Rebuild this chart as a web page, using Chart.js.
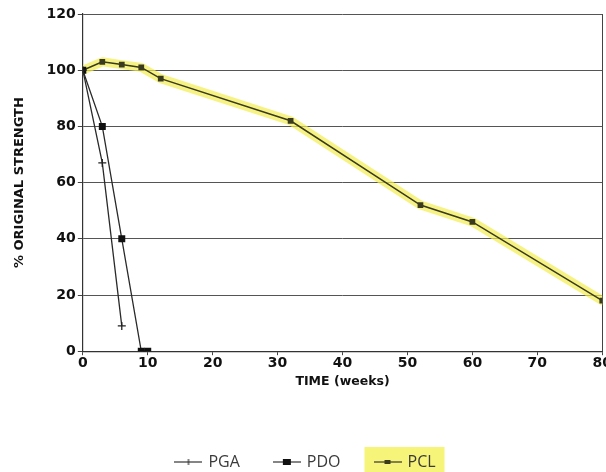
<!DOCTYPE html>
<html>
<head>
<meta charset="utf-8">
<script src="https://cdn.jsdelivr.net/npm/chart.js@4.4.0/dist/chart.umd.min.js"></script>
<style>
  html, body { margin: 0; padding: 0; background: #fff; overflow: hidden; }
  #wrap { width: 612px; height: 472px; }
</style>
</head>
<body>
<div id="wrap"><canvas id="lineChart"></canvas></div>
<script>
// weeks and % original strength
const pgaWeeks = [0, 3, 6];
const pgaValues = [100, 67, 9];
const pdoWeeks = [0, 3, 6, 9, 10];
const pdoValues = [100, 80, 40, 0, 0];
const pclWeeks = [0, 3, 6, 9, 12, 32, 52, 60, 80];
const pclValues = [100, 103, 102, 101, 97, 82, 52, 46, 18];
const yTicks = [0, 20, 40, 60, 80, 100, 120];
const xTicks = [0, 10, 20, 30, 40, 50, 60, 70, 80];

const toPoints = (xs, ys) => xs.map((x, i) => ({ x: x, y: ys[i] }));

// little line+marker samples for the legend
const makeSample = (drawMarker) => {
    const c = document.createElement('canvas');
    c.width = 28;
    c.height = 12;
    const g = c.getContext('2d');
    g.strokeStyle = '#333';
    g.lineWidth = 1.2;
    g.beginPath();
    g.moveTo(0, 6);
    g.lineTo(28, 6);
    g.stroke();
    drawMarker(g);
    return c;
};

const pgaSample = makeSample(g => {
    g.beginPath();
    g.moveTo(14, 3); g.lineTo(14, 9);
    g.stroke();
});
const pdoSample = makeSample(g => {
    g.fillStyle = '#111';
    g.fillRect(10, 3, 8, 6);
});
const pclSample = makeSample(g => {
    g.fillStyle = '#3b3b1a';
    g.fillRect(11, 4, 6, 4);
});

const legendHighlight = {
    id: 'legendHighlight',
    beforeDraw(chart) {
        const legend = chart.legend;
        if (!legend || !legend.legendItems) return;
        const idx = legend.legendItems.findIndex(it => it.text === 'PCL');
        const box = legend.legendHitBoxes[idx];
        if (!box) return;
        const ctx = chart.ctx;
        ctx.save();
        ctx.fillStyle = '#f7f47a';
        ctx.fillRect(box.left - 11, 447, box.width + 20, 30);
        ctx.restore();
    }
};

const tickFont = { family: 'DejaVu Sans', size: 14, weight: 'bold' };

const ctx = document.getElementById('lineChart').getContext('2d');
const myChart = new Chart(ctx, {
    type: 'line',
    data: {
        datasets: [{
            label: 'PGA',
            data: toPoints(pgaWeeks, pgaValues),
            borderColor: '#2a2a2a',
            borderWidth: 1.3,
            pointStyle: 'cross',
            pointRadius: 4,
            pointBorderColor: '#222',
            pointBorderWidth: 1.3,
            sample: pgaSample
        }, {
            label: 'PDO',
            data: toPoints(pdoWeeks, pdoValues),
            borderColor: '#2a2a2a',
            borderWidth: 1.3,
            pointStyle: 'rect',
            pointRadius: 4,
            pointBackgroundColor: '#111',
            pointBorderColor: '#111',
            sample: pdoSample
        }, {
            label: 'PCL',
            data: toPoints(pclWeeks, pclValues),
            borderColor: '#3a3a1e',
            borderWidth: 1.5,
            pointStyle: 'rect',
            pointRadius: 3,
            pointBackgroundColor: '#3a3a1e',
            pointBorderColor: '#3a3a1e',
            sample: pclSample
        }, {
            label: 'band',
            data: toPoints(pclWeeks, pclValues),
            borderColor: 'rgba(242, 238, 80, 0.7)',
            borderWidth: 9,
            pointRadius: 0,
            borderCapStyle: 'round',
            borderJoinStyle: 'round'
        }]
    },
    options: {
        responsive: true,
        maintainAspectRatio: false,
        animation: false,
        layout: { padding: { left: 0, right: 0, top: 14, bottom: -8 } },
        scales: {
            x: {
                type: 'linear',
                min: 0,
                max: 80,
                afterBuildTicks: axis => { axis.ticks = xTicks.map(v => ({ value: v })); },
                grid: {
                    color: c => c.tick && c.tick.value === 80 ? '#444' : 'rgba(0,0,0,0)',
                    drawTicks: true,
                    tickLength: 4,
                    tickColor: '#444'
                },
                border: { color: '#333', width: 1.2 },
                ticks: { color: '#111', font: tickFont, padding: 0 },
                title: {
                    display: true,
                    text: 'TIME (weeks)',
                    color: '#111',
                    font: { family: 'DejaVu Sans', size: 12.5, weight: 'bold' },
                    padding: { top: 2, bottom: 30 }
                }
            },
            y: {
                min: 0,
                max: 120,
                afterBuildTicks: axis => { axis.ticks = yTicks.map(v => ({ value: v })); },
                grid: {
                    color: '#555',
                    lineWidth: 1,
                    tickLength: 5,
                    tickColor: '#444'
                },
                border: { color: '#333', width: 1.2 },
                ticks: { color: '#111', font: tickFont, padding: 2 },
                title: {
                    display: true,
                    text: '% ORIGINAL STRENGTH',
                    color: '#111',
                    font: { family: 'DejaVu Sans', size: 13, weight: 'bold' },
                    padding: { top: 12, bottom: 17 }
                }
            }
        },
        plugins: {
            legend: {
                display: true,
                position: 'bottom',
                labels: {
                    usePointStyle: true,
                    pointStyleWidth: 24,
                    padding: 35,
                    color: '#3a3a3a',
                    font: { family: 'Open Sans', size: 16 },
                    filter: item => item.text !== 'band',
                    generateLabels: chart => chart.data.datasets
                        .map((ds, i) => ({
                            text: ds.label,
                            pointStyle: ds.sample,
                            fontColor: '#3a3a3a',
                            datasetIndex: i,
                            lineWidth: 0
                        }))
                }
            },
            tooltip: { enabled: false }
        }
    },
    plugins: [legendHighlight]
});
</script>
</body>
</html>
